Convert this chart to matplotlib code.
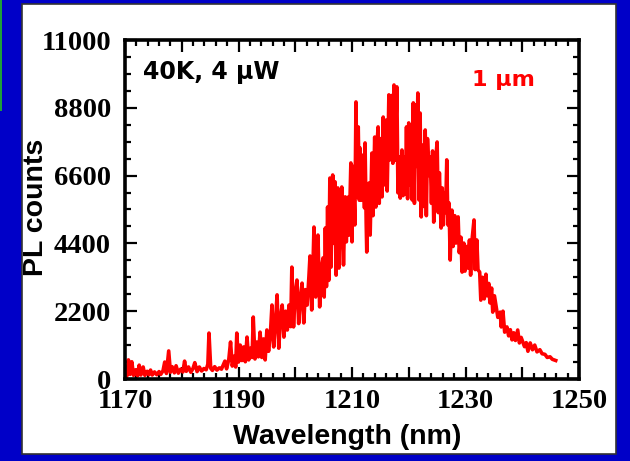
import matplotlib
matplotlib.use('Agg')
import matplotlib.pyplot as plt
from matplotlib.patches import Rectangle
from matplotlib.ticker import MultipleLocator, FuncFormatter

# PL spectrum: (wavelength nm, counts), zig-zag of the noisy trace
wavelength = [
    1170.0, 1170.3, 1170.6, 1170.9, 1171.2, 1171.5, 1171.9, 1172.2, 1172.5, 1172.8,
    1173.2, 1173.5, 1173.9, 1174.2, 1174.5, 1174.8, 1175.2, 1175.6, 1176.0, 1176.3,
    1176.7, 1177.0, 1177.3, 1177.7, 1178.0, 1178.3, 1178.7, 1179.0, 1179.4, 1179.8,
    1180.2, 1180.5, 1180.8, 1181.2, 1181.6, 1182.0, 1182.3, 1182.7, 1183.1, 1183.5,
    1183.9, 1184.3, 1184.6, 1184.8, 1185.1, 1185.4, 1185.8, 1186.2, 1186.6, 1187.0,
    1187.3, 1187.6, 1187.9, 1188.3, 1188.6, 1188.9, 1189.3, 1189.5, 1189.7, 1190.0,
    1190.3, 1190.6, 1190.9, 1191.2, 1191.5, 1191.8, 1192.1, 1192.4, 1192.6, 1192.9,
    1193.2, 1193.5, 1193.8, 1194.1, 1194.4, 1194.7, 1195.0, 1195.3, 1195.6, 1195.9,
    1196.2, 1196.5, 1196.8, 1197.1, 1197.4, 1197.7, 1198.0, 1198.3, 1198.6, 1198.9,
    1199.2, 1199.4, 1199.7, 1200.0, 1200.3, 1200.6, 1200.9, 1201.2, 1201.5, 1201.8,
    1202.1, 1202.4, 1202.6, 1202.9, 1203.1, 1203.3, 1203.6, 1203.8, 1204.0, 1204.3,
    1204.6, 1204.9, 1205.1, 1205.3, 1205.5, 1205.7, 1205.9, 1206.1, 1206.3, 1206.6,
    1206.8, 1207.0, 1207.2, 1207.5, 1207.7, 1208.0, 1208.2, 1208.5, 1208.8, 1209.0,
    1209.3, 1209.5, 1209.8, 1210.0, 1210.2, 1210.5, 1210.7, 1210.9, 1211.1, 1211.3,
    1211.4, 1211.7, 1212.0, 1212.2, 1212.3, 1212.5, 1212.6, 1212.8, 1213.0, 1213.2,
    1213.5, 1213.7, 1214.0, 1214.2, 1214.4, 1214.6, 1214.8, 1215.0, 1215.3, 1215.5,
    1215.7, 1216.0, 1216.2, 1216.5, 1216.7, 1217.0, 1217.2, 1217.4, 1217.6, 1217.9,
    1218.1, 1218.3, 1218.5, 1218.8, 1219.0, 1219.2, 1219.4, 1219.6, 1219.8, 1220.0,
    1220.2, 1220.4, 1220.6, 1220.8, 1221.0, 1221.2, 1221.4, 1221.6, 1221.8, 1222.0,
    1222.2, 1222.4, 1222.6, 1222.9, 1223.1, 1223.3, 1223.6, 1223.8, 1224.0, 1224.2,
    1224.4, 1224.7, 1225.0, 1225.2, 1225.4, 1225.7, 1225.9, 1226.1, 1226.3, 1226.5,
    1226.7, 1226.9, 1227.1, 1227.3, 1227.6, 1227.8, 1228.1, 1228.3, 1228.7, 1228.9,
    1229.2, 1229.4, 1229.7, 1229.9, 1230.2, 1230.4, 1230.7, 1230.9, 1231.2, 1231.5,
    1231.7, 1232.0, 1232.2, 1232.5, 1232.7, 1233.0, 1233.3, 1233.6, 1233.8, 1234.1,
    1234.3, 1234.6, 1234.8, 1235.1, 1235.4, 1235.7, 1236.1, 1236.3, 1236.6, 1236.9,
    1237.3, 1237.6, 1237.9, 1238.2, 1238.5, 1238.8, 1239.2, 1239.5, 1239.8, 1240.1,
    1240.4, 1240.7, 1241.0, 1241.4, 1241.8, 1242.2, 1242.6, 1243.1, 1243.5, 1244.0,
    1244.4, 1244.9, 1245.3, 1245.9,
]
counts = [
    250, 80, 620, 150, 560, 120, 300, 100, 450, 130,
    390, 120, 250, 140, 290, 130, 230, 140, 240, 150,
    270, 550, 180, 910, 220, 400, 200, 430, 190, 320,
    230, 580, 250, 390, 220, 350, 530, 240, 390, 260,
    340, 300, 480, 1490, 350, 280, 400, 290, 360, 320,
    450, 580, 330, 650, 1200, 420, 750, 390, 1490, 550,
    1100, 600, 1040, 560, 1360, 620, 1000, 700, 2010, 650,
    1200, 720, 1520, 700, 1300, 620, 1590, 900, 1400, 2400,
    1040, 1800, 2730, 1000, 2000, 2400, 1360, 2200, 1590, 2400,
    1700, 3630, 1690, 2800, 3210, 1800, 2600, 3110, 1820, 2900,
    2400, 3300, 3990, 2240, 3500, 4930, 2660, 4000, 4670, 2340,
    3600, 3930, 2660, 4900, 3000, 5580, 3200, 6520, 3630, 6620,
    4400, 6400, 3370, 6200, 3600, 5500, 6230, 3700, 5910, 4450,
    5900, 4670, 7010, 4450, 6900, 5000, 8990, 5910, 8180, 5800,
    7500, 5800, 7270, 5550, 7660, 5060, 4120, 5500, 6360, 4670,
    7330, 5300, 7850, 5580, 7600, 8180, 5700, 7800, 5910, 8500,
    6300, 8400, 6100, 9220, 7110, 9200, 7000, 9540, 7100, 9480,
    6040, 7200, 5870, 7430, 5950, 7200, 6000, 8180, 5850, 8310,
    6300, 7900, 5810, 8960, 5700, 8900, 6900, 9280, 5810, 8630,
    5260, 7590, 5600, 8080, 5300, 7800, 6600, 7200, 5700, 7400,
    5090, 7000, 7690, 5400, 6690, 4900, 6200, 5000, 6040, 5400,
    7110, 5000, 5710, 3860, 5480, 4300, 5300, 4410, 5260, 4100,
    4600, 3470, 4410, 3500, 4300, 3600, 4510, 3370, 4600, 5160,
    3550, 4510, 3540, 3470, 2560, 3300, 2600, 3400, 2700, 3100,
    2470, 2950, 2170, 2700, 2340, 2000, 2170, 1690, 2200, 1520,
    1690, 1400, 1600, 1270, 1500, 1250, 1590, 1170, 1350, 1200,
    1050, 1180, 900, 1170, 950, 1100, 880, 950, 820, 800,
    700, 720, 640, 600,
]

xticks = [1170, 1190, 1210, 1230, 1250]
yticks = [0, 2200, 4400, 6600, 8800, 11000]

W, H = 630, 461
fig = plt.figure(figsize=(W / 100, H / 100), dpi=100)
fig.patch.set_facecolor('#0000C8')

# white slide panel and the little green strip at the left edge
fig.patches.append(Rectangle((22 / W, 7 / H), 594 / W, 450 / H, transform=fig.transFigure,
                             facecolor='white', edgecolor='#333333', lw=1.2, zorder=0))
fig.patches.append(Rectangle((0, 350 / H), 2 / W, 111 / H, transform=fig.transFigure,
                             facecolor='#1E9E3A', edgecolor='none', zorder=0))

ax = fig.add_axes([125 / W, 82 / H, 454 / W, 339 / H])
ax.set_zorder(2)
ax.patch.set_alpha(0)
ax.plot(wavelength, counts, color='#FF0000', lw=2.6)

ax.set_xlim(1170, 1250)
ax.set_ylim(0, 11000)
ax.xaxis.set_major_locator(MultipleLocator(10))
ax.xaxis.set_minor_locator(MultipleLocator(2))
ax.xaxis.set_major_formatter(FuncFormatter(lambda v, p: '%d' % v if int(round(v)) in xticks else ''))
ax.yaxis.set_major_locator(MultipleLocator(2200))
ax.yaxis.set_minor_locator(MultipleLocator(550))
ax.yaxis.set_major_formatter(FuncFormatter(lambda v, p: '%d' % v if int(round(v)) in yticks else ''))

for s in ax.spines.values():
    s.set_linewidth(2.6)
ax.tick_params(which='both', direction='in', top=True, right=True, width=1.6)
ax.tick_params(which='major', length=8.5)
ax.tick_params(which='minor', length=4.3)
ax.tick_params(axis='x', pad=7)
ax.tick_params(axis='y', pad=10)
for lab in ax.get_xticklabels() + ax.get_yticklabels():
    lab.set_fontfamily('Liberation Serif')
    lab.set_fontweight('bold')
    lab.set_fontsize(20.5)

fig.text(347 / W, 17 / H, 'Wavelength (nm)', family='Liberation Sans', weight='bold',
         fontsize=20.5, ha='center', va='baseline', zorder=3)
fig.text(36 / W, 1 - 207 / H, 'PL counts', family='Liberation Sans', weight='bold',
         fontsize=20.5, ha='center', va='center', rotation=90, zorder=3)

fig.text(143 / W, 1 - 79 / H, '40K, 4 \u03bcW', family='DejaVu Sans', weight='bold',
         fontsize=17, ha='left', va='baseline', zorder=3)
fig.text(472 / W, 1 - 86 / H, '1 \u03bcm', family='DejaVu Sans', weight='bold', fontsize=16,
         color='#FF0000', ha='left', va='baseline', zorder=3)

plt.savefig('out.png', dpi=100, facecolor=fig.get_facecolor())
